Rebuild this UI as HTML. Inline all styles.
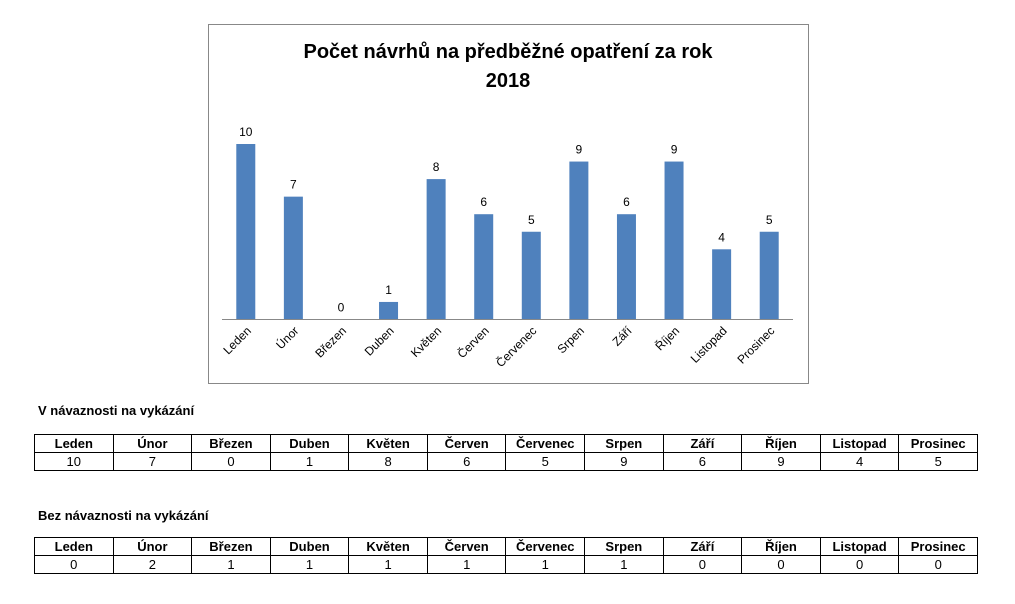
<!DOCTYPE html>
<html><head><meta charset="utf-8"><style>
body{margin:0;width:1015px;height:604px;background:#fff;font-family:"Liberation Sans",sans-serif;position:relative;overflow:hidden}
.h{position:absolute;left:38px;font-weight:bold;font-size:13px}
table{position:absolute;left:34px;width:944px;border-collapse:collapse;table-layout:fixed;font-size:13px}
td{border:1px solid #000;text-align:center;height:17px;padding:0;line-height:16px}
tr:first-child td{font-weight:bold}
</style></head><body>
<svg width="1015" height="604" style="position:absolute;left:0;top:0">
<rect x="208.5" y="24.5" width="600" height="359" fill="#fff" stroke="#888"/>
<text x="508" y="58" text-anchor="middle" font-size="20" font-weight="bold">Počet návrhů na předběžné opatření za rok</text>
<text x="508" y="87" text-anchor="middle" font-size="20" font-weight="bold">2018</text>
<g id="bars"></g>
<line x1="222" y1="319.5" x2="793" y2="319.5" stroke="#888"/>
</svg>
<div class="h" style="top:403px">V návaznosti na vykázání</div>
<table id="t1" style="top:434px"></table>
<div class="h" style="top:508px">Bez návaznosti na vykázání</div>
<table id="t2" style="top:537px"></table>
<script>
const categories=["Leden","Únor","Březen","Duben","Květen","Červen","Červenec","Srpen","Září","Říjen","Listopad","Prosinec"];
const values=[10,7,0,1,8,6,5,9,6,9,4,5];
const values2=[0,2,1,1,1,1,1,1,0,0,0,0];
const NS="http://www.w3.org/2000/svg";
const x0=222,step=571/12,base=319.5,unit=17.55;
const xs=i=>x0+step*i+step/2;
const ys=v=>base-v*unit;
const g=document.getElementById('bars');
categories.forEach((c,i)=>{
 const r=document.createElementNS(NS,'rect');
 r.setAttribute('x',xs(i)-9.5);r.setAttribute('width',19);
 r.setAttribute('y',ys(values[i]));r.setAttribute('height',base-ys(values[i]));
 r.setAttribute('fill','#4f81bd');
 
 
 g.appendChild(r);
 const t=document.createElementNS(NS,'text');
 t.setAttribute('x',xs(i));t.setAttribute('y',ys(values[i])-8);
 t.setAttribute('text-anchor','middle');t.setAttribute('font-size','12');
 t.textContent=values[i];
 
 
 g.appendChild(t);
 const l=document.createElementNS(NS,'text');
 l.setAttribute('text-anchor','end');l.setAttribute('font-size','12');
 l.setAttribute('transform','translate('+(xs(i)+6)+','+(base+12)+') rotate(-45)');
 l.textContent=c;
 
 
 g.appendChild(l);
});
function fill(id,vals){
 const t=document.getElementById(id);
 let h='<tr>'+categories.map(c=>'<td>'+c+'</td>').join('')+'</tr>';
 h+='<tr>'+vals.map(v=>'<td>'+v+'</td>').join('')+'</tr>';
 t.innerHTML=h;
}
fill('t1',values);fill('t2',values2);
</script>
</body></html>
